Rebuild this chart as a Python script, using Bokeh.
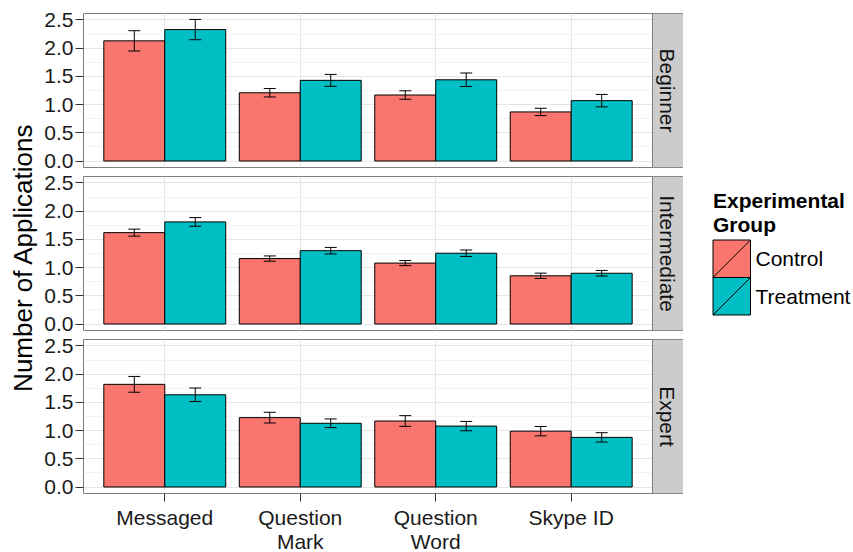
import math
from bokeh.plotting import figure
from bokeh.layouts import row, column
from bokeh.models import Range1d, FixedTicker, Whisker, TeeHead, ColumnDataSource, PrintfTickFormatter
from bokeh.core.properties import value
from bokeh.embed import file_html
from bokeh.resources import INLINE

# ---------------- data ----------------
categories = ["Messaged", "Question\nMark", "Question\nWord", "Skype ID"]
levels = ["Beginner", "Intermediate", "Expert"]
groups = ["Control", "Treatment"]
group_colors = ["#F8766D", "#00BFC4"]

beginner_control = [2.13, 1.21, 1.17, 0.87]
beginner_control_se = [0.18, 0.075, 0.075, 0.065]
beginner_treatment = [2.33, 1.43, 1.44, 1.07]
beginner_treatment_se = [0.18, 0.105, 0.12, 0.11]

intermediate_control = [1.62, 1.16, 1.08, 0.855]
intermediate_control_se = [0.062, 0.047, 0.045, 0.047]
intermediate_treatment = [1.81, 1.30, 1.255, 0.90]
intermediate_treatment_se = [0.077, 0.058, 0.057, 0.05]

expert_control = [1.82, 1.23, 1.17, 0.99]
expert_control_se = [0.14, 0.095, 0.095, 0.083]
expert_treatment = [1.635, 1.13, 1.08, 0.88]
expert_treatment_se = [0.12, 0.077, 0.083, 0.083]

y_ticks = [0.0, 0.5, 1.0, 1.5, 2.0, 2.5]
y_minor = [0.25, 0.75, 1.25, 1.75, 2.25]

panel_data = [
    (beginner_control, beginner_control_se, beginner_treatment, beginner_treatment_se),
    (intermediate_control, intermediate_control_se, intermediate_treatment, intermediate_treatment_se),
    (expert_control, expert_control_se, expert_treatment, expert_treatment_se),
]

# ---------------- style ----------------
FONT = "Liberation Sans"
TXT = "21px"
n = len(categories)
strip_w = 0.229
x_lo, x_hi = 0.4, n + 0.6 + strip_w
y_lo, y_hi = -0.115, 2.615
dodge = 0.45
TOTAL_H = 545

def make_panel(k, top_border, bottom_border, show_x):
    ctrl, ctrl_se, trt, trt_se = panel_data[k]
    p = figure(frame_width=600, frame_height=154,
               x_range=Range1d(x_lo, x_hi), y_range=Range1d(y_lo, y_hi),
               output_backend="svg", toolbar_location=None,
               min_border_left=45, min_border_right=0, min_border_top=top_border,
               min_border_bottom=bottom_border)
    p.outline_line_color = "#7F7F7F"
    p.outline_line_width = 1
    p.background_fill_color = "white"
    p.border_fill_color = "white"

    xt = FixedTicker(ticks=list(range(1, n + 1)))
    yt = FixedTicker(ticks=y_ticks, minor_ticks=y_minor)
    p.xaxis.ticker = xt
    p.xgrid.ticker = xt
    p.yaxis.ticker = yt
    p.ygrid.ticker = yt
    p.xgrid.grid_line_color = "#E5E5E5"
    p.ygrid.grid_line_color = "#E5E5E5"
    p.ygrid.minor_grid_line_color = "#F3F3F3"

    for ax in (p.xaxis, p.yaxis):
        ax.axis_line_color = None
        ax.major_tick_in = 0
        ax.major_tick_out = 8
        ax.minor_tick_in = 0
        ax.minor_tick_out = 0
        ax.major_tick_line_color = "#333333"
        ax.major_label_text_font = FONT
        ax.major_label_text_font_size = TXT
        ax.major_label_text_color = "#1a1a1a"
        ax.major_label_standoff = 2
    p.yaxis.formatter = PrintfTickFormatter(format="%.1f")
    p.xaxis.major_label_overrides = {i + 1: c for i, c in enumerate(categories)}
    p.xaxis.major_label_text_line_height = 1.05
    p.xaxis.major_label_standoff = 4
    p.xaxis.visible = show_x

    for g, (vals, ses) in enumerate([(ctrl, ctrl_se), (trt, trt_se)]):
        xs = [i + 1 + (g - 0.5) * dodge for i in range(n)]
        src = ColumnDataSource(dict(x=xs, top=vals,
                                    upper=[v + s for v, s in zip(vals, ses)],
                                    lower=[v - s for v, s in zip(vals, ses)]))
        p.vbar(x="x", top="top", bottom=0, width=dodge, source=src,
               fill_color=group_colors[g], line_color="black", line_width=1)
        w = Whisker(base="x", upper="upper", lower="lower", source=src,
                    line_color="black", line_width=1, level="overlay",
                    upper_head=TeeHead(size=12, line_color="black", line_width=1),
                    lower_head=TeeHead(size=12, line_color="black", line_width=1))
        p.add_layout(w)

    # facet strip
    p.quad(left=[n + 0.6], right=[x_hi], bottom=[y_lo], top=[y_hi],
           fill_color="#CCCCCC", line_color="#7F7F7F", line_width=1)
    p.text(x=[n + 0.6 + strip_w / 2], y=[(y_lo + y_hi) / 2], text=[levels[k]],
           angle=-math.pi / 2, text_align="center", text_baseline="middle",
           text_font=value(FONT), text_font_size=TXT, text_color="#111111")
    return p

panels = [make_panel(0, 13, 4, False), make_panel(1, 5, 4, False), make_panel(2, 5, 52, True)]

# y-axis title
tf = figure(width=38, height=TOTAL_H, x_range=Range1d(0, 38), y_range=Range1d(TOTAL_H, 0),
            output_backend="svg", toolbar_location=None, min_border=0,
            x_axis_type=None, y_axis_type=None)
tf.outline_line_color = None
tf.grid.visible = False
tf.text(x=[22], y=[257], text=["Number of Applications"], angle=math.pi / 2,
        text_align="center", text_baseline="middle", text_font=value(FONT),
        text_font_size="26px", text_color="black")

# legend
LW = 168
lf = figure(width=LW, height=TOTAL_H, x_range=Range1d(0, LW), y_range=Range1d(TOTAL_H, 0),
            output_backend="svg", toolbar_location=None, min_border=0,
            x_axis_type=None, y_axis_type=None)
lf.outline_line_color = None
lf.grid.visible = False
key_x0, key_size, key_top0 = 29.5, 37.5, 239.5
tops = [key_top0 + i * key_size for i in range(len(groups))]
bots = [t + key_size for t in tops]
lf.quad(left=[key_x0] * len(groups), right=[key_x0 + key_size] * len(groups),
        top=tops, bottom=bots, fill_color=group_colors, line_color="black", line_width=1)
lf.segment(x0=[key_x0] * len(groups), y0=bots, x1=[key_x0 + key_size] * len(groups), y1=tops,
           line_color="black", line_width=1)
lf.text(x=[key_x0 + key_size + 5] * len(groups), y=[t + key_size / 2 for t in tops], text=groups,
        text_align="left", text_baseline="middle", text_font=value(FONT),
        text_font_size=TXT, text_color="black")
lf.text(x=[key_x0], y=[188], text=["Experimental\nGroup"], text_align="left",
        text_baseline="top", text_font=value(FONT), text_font_size=TXT,
        text_font_style="bold", text_line_height=1.05, text_color="black")

layout = row(tf, column(*panels), lf)
open("out.html", "w").write(file_html(layout, INLINE))
